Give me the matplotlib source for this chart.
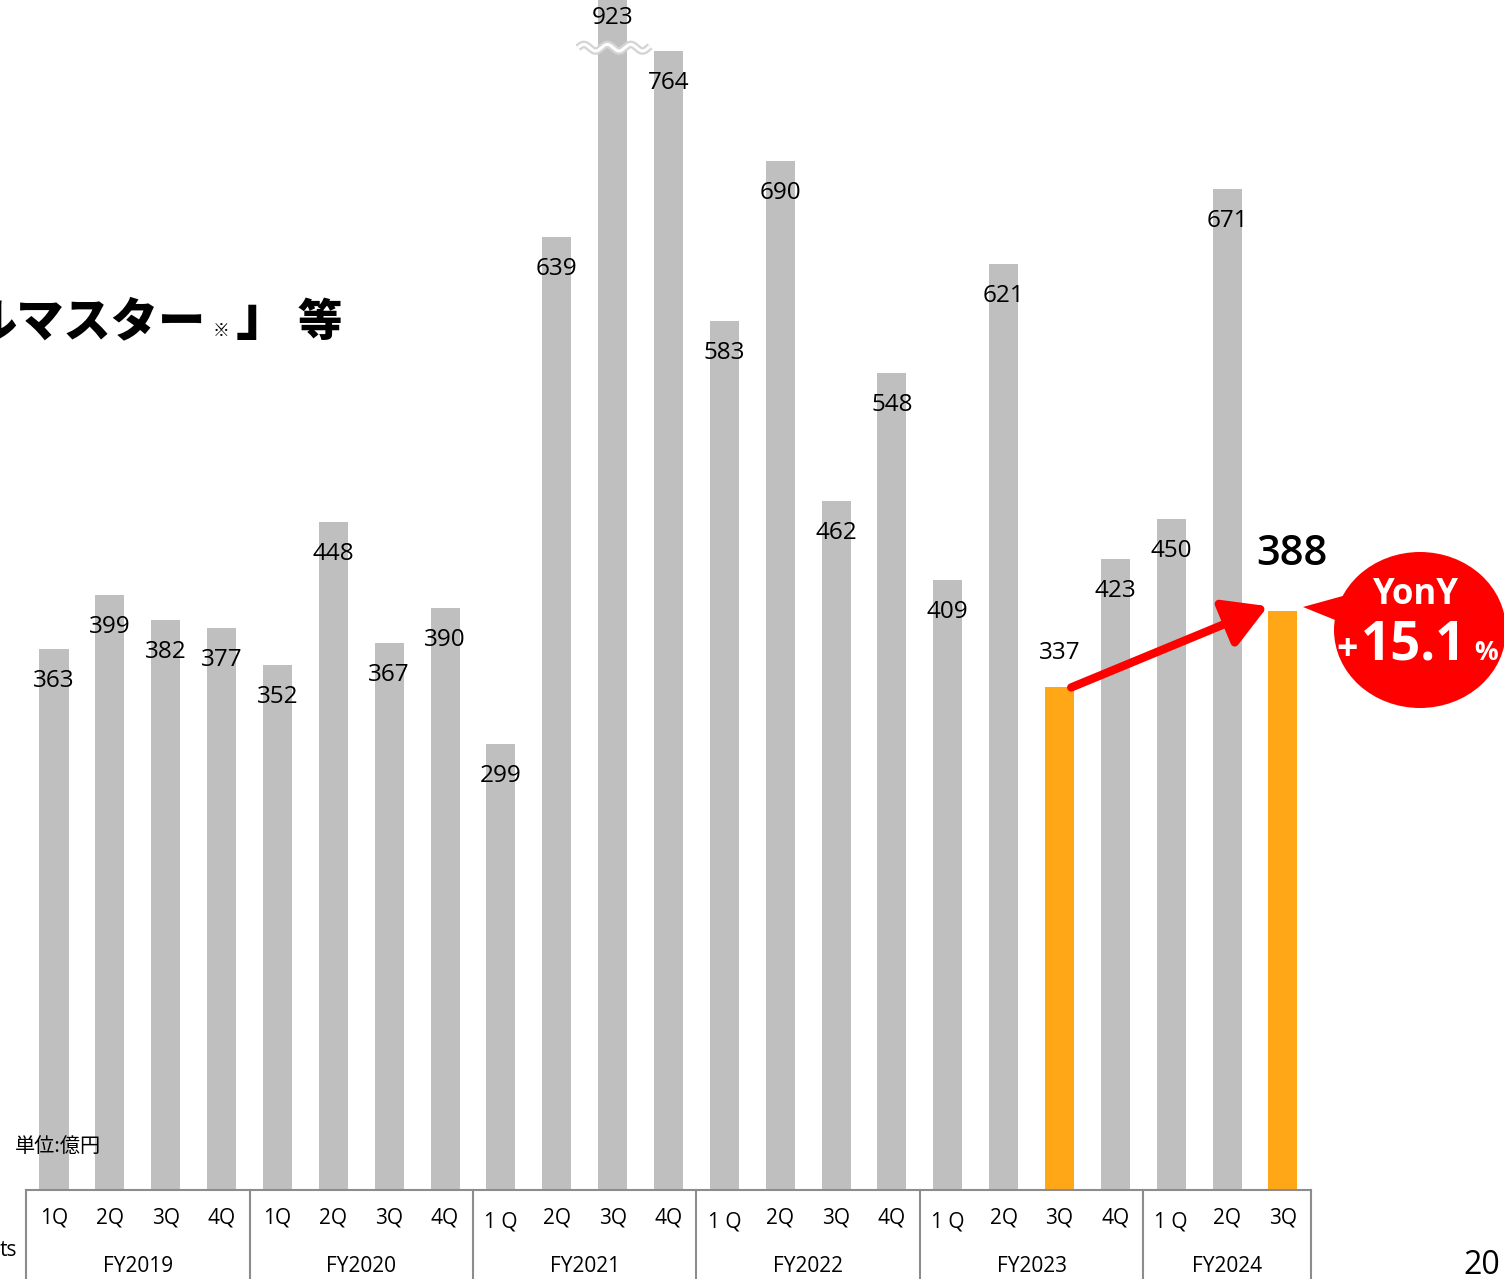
import numpy as np
import matplotlib
matplotlib.use("Agg")
import matplotlib.pyplot as plt
from matplotlib.patches import Ellipse, Polygon

plt.rcParams['font.family'] = ['Noto Sans CJK JP', 'DejaVu Sans']

# データ (単位: 億円)
years = ["FY2019", "FY2020", "FY2021", "FY2022", "FY2023", "FY2024"]
quarters_per_year = [4, 4, 4, 4, 4, 3]
quarter_labels = ["1Q", "2Q", "3Q", "4Q",
                  "1Q", "2Q", "3Q", "4Q",
                  "1 Q", "2Q", "3Q", "4Q",
                  "1 Q", "2Q", "3Q", "4Q",
                  "1 Q", "2Q", "3Q", "4Q",
                  "1 Q", "2Q", "3Q"]
values = [363, 399, 382, 377,
          352, 448, 367, 390,
          299, 639, 923, 764,
          583, 690, 462, 548,
          409, 621, 337, 423,
          450, 671, 388]
highlight = [18, 22]   # FY2023 3Q, FY2024 3Q
yony_text = "+15.1%"

GRAY = "#bfbfbf"
ORANGE = "#ffa717"
RED = "#ff0000"
LINE = "#8c8c8c"
YMAX = 798
NUM_FONT = "Open Sans"

W, H = 1504, 1279
fig = plt.figure(figsize=(W / 100, H / 100), dpi=100)
ax = fig.add_axes([0, 89 / H, 1, 1190 / H])
ax.set_xlim(-0.967, 25.958)
ax.set_ylim(0, YMAX)
ax.axis("off")

x = np.arange(len(values))
colors = [ORANGE if i in highlight else GRAY for i in x]
ax.bar(x, values, width=0.52, color=colors, zorder=2)

# 値ラベル
for i, v in enumerate(values):
    if i == highlight[-1]:
        ax.annotate(str(v), (i + 0.16, v), xytext=(0, 41), textcoords="offset points",
                    ha="center", va="center", fontsize=30, fontweight="semibold",
                    family=NUM_FONT, zorder=5)
    elif i in highlight:
        ax.annotate(str(v), (i, v), xytext=(0, 25), textcoords="offset points",
                    ha="center", va="center", fontsize=17.5, family=NUM_FONT, zorder=5)
    elif v > YMAX:
        ax.annotate(str(v), (i, YMAX), xytext=(0, -13), textcoords="offset points",
                    ha="center", va="center", fontsize=17.5, family=NUM_FONT, zorder=5)
    else:
        ax.annotate(str(v), (i, v), xytext=(0, -23), textcoords="offset points",
                    ha="center", va="center", fontsize=17.5, family=NUM_FONT, zorder=5)

# 923 の省略 (波線)
big = int(np.argmax(values))
wx = np.linspace(big - 0.62, big + 0.67, 200)
wy = 766 + 2.2 * np.sin((wx - wx[0]) * 2 * np.pi / 0.42)
ax.plot(wx, wy, color="#d4d4d4", lw=5.5, zorder=3, solid_capstyle="butt")
ax.plot(wx, wy, color="white", lw=2.2, zorder=4, solid_capstyle="butt")

# 矢印
a, b = highlight
ax.annotate("", xy=(b - 0.27, values[b] + 3.5), xytext=(a + 0.21, values[a]),
            arrowprops=dict(arrowstyle="-|>,head_length=1.3,head_width=0.75",
                            lw=6, color=RED, mutation_scale=20, shrinkA=0, shrinkB=0),
            zorder=6)

# 区切り表
tr = ax.get_xaxis_transform()
ax.plot([-0.5, len(values) - 0.5], [0, 0], color=LINE, lw=1.5, transform=tr, clip_on=False)
start = 0
bounds = [-0.5]
for yr, n in zip(years, quarters_per_year):
    bounds.append(start + n - 0.5)
    ax.text(start + (n - 1) / 2, -76 / 1190, yr, transform=tr, ha="center", va="center",
            fontsize=15, family=NUM_FONT)
    start += n
for bx in bounds:
    ax.plot([bx, bx], [0, -0.08], color=LINE, lw=1.5, transform=tr, clip_on=False)
for i, q in enumerate(quarter_labels):
    dy = -32 if " " in q else -28
    ax.text(i, dy / 1190, q, transform=tr, ha="center", va="center",
            fontsize=15, family=NUM_FONT)

# 上に重ねる装飾レイヤー (ピクセル座標)
ov = fig.add_axes([0, 0, 1, 1], zorder=10)
ov.set_xlim(0, W)
ov.set_ylim(H, 0)
ov.axis("off")
ov.patch.set_alpha(0)

ov.text(206, 322, "ルマスター", ha="right", va="center", fontsize=34, fontweight="heavy")
ov.text(221, 331, "※", ha="center", va="center", fontsize=12, fontweight="bold")
ov.text(236, 318, "」", ha="left", va="center", fontsize=40, fontweight="heavy")
ov.text(320, 322, "等", ha="center", va="center", fontsize=32, fontweight="heavy")

ov.text(15, 1146, "単位:億円", ha="left", va="center", fontsize=14.5)
ov.text(0, 1251, "ts", ha="left", va="center", fontsize=15, family=NUM_FONT)
ov.text(1500, 1265, "20", ha="right", va="center", fontsize=23, family=NUM_FONT)

# YonY 吹き出し
ov.add_patch(Polygon([(1303, 607), (1350, 594), (1350, 626)], closed=True,
                     color=RED, lw=0))
ov.add_patch(Ellipse((1420, 630), 172, 156, color=RED, lw=0))
ov.text(1416, 595, "YonY", ha="center", va="center", color="white",
        fontsize=25, fontweight="bold", family=NUM_FONT)
ov.text(1347, 650, yony_text[0], ha="center", va="center", color="white",
        fontsize=27, fontweight="bold", family=NUM_FONT)
ov.text(1414, 645, yony_text[1:-1], ha="center", va="center", color="white",
        fontsize=38, fontweight="bold", family=NUM_FONT)
ov.text(1486, 652, yony_text[-1], ha="center", va="center", color="white",
        fontsize=19, fontweight="bold", family=NUM_FONT)

fig.savefig("out.png", dpi=100)
